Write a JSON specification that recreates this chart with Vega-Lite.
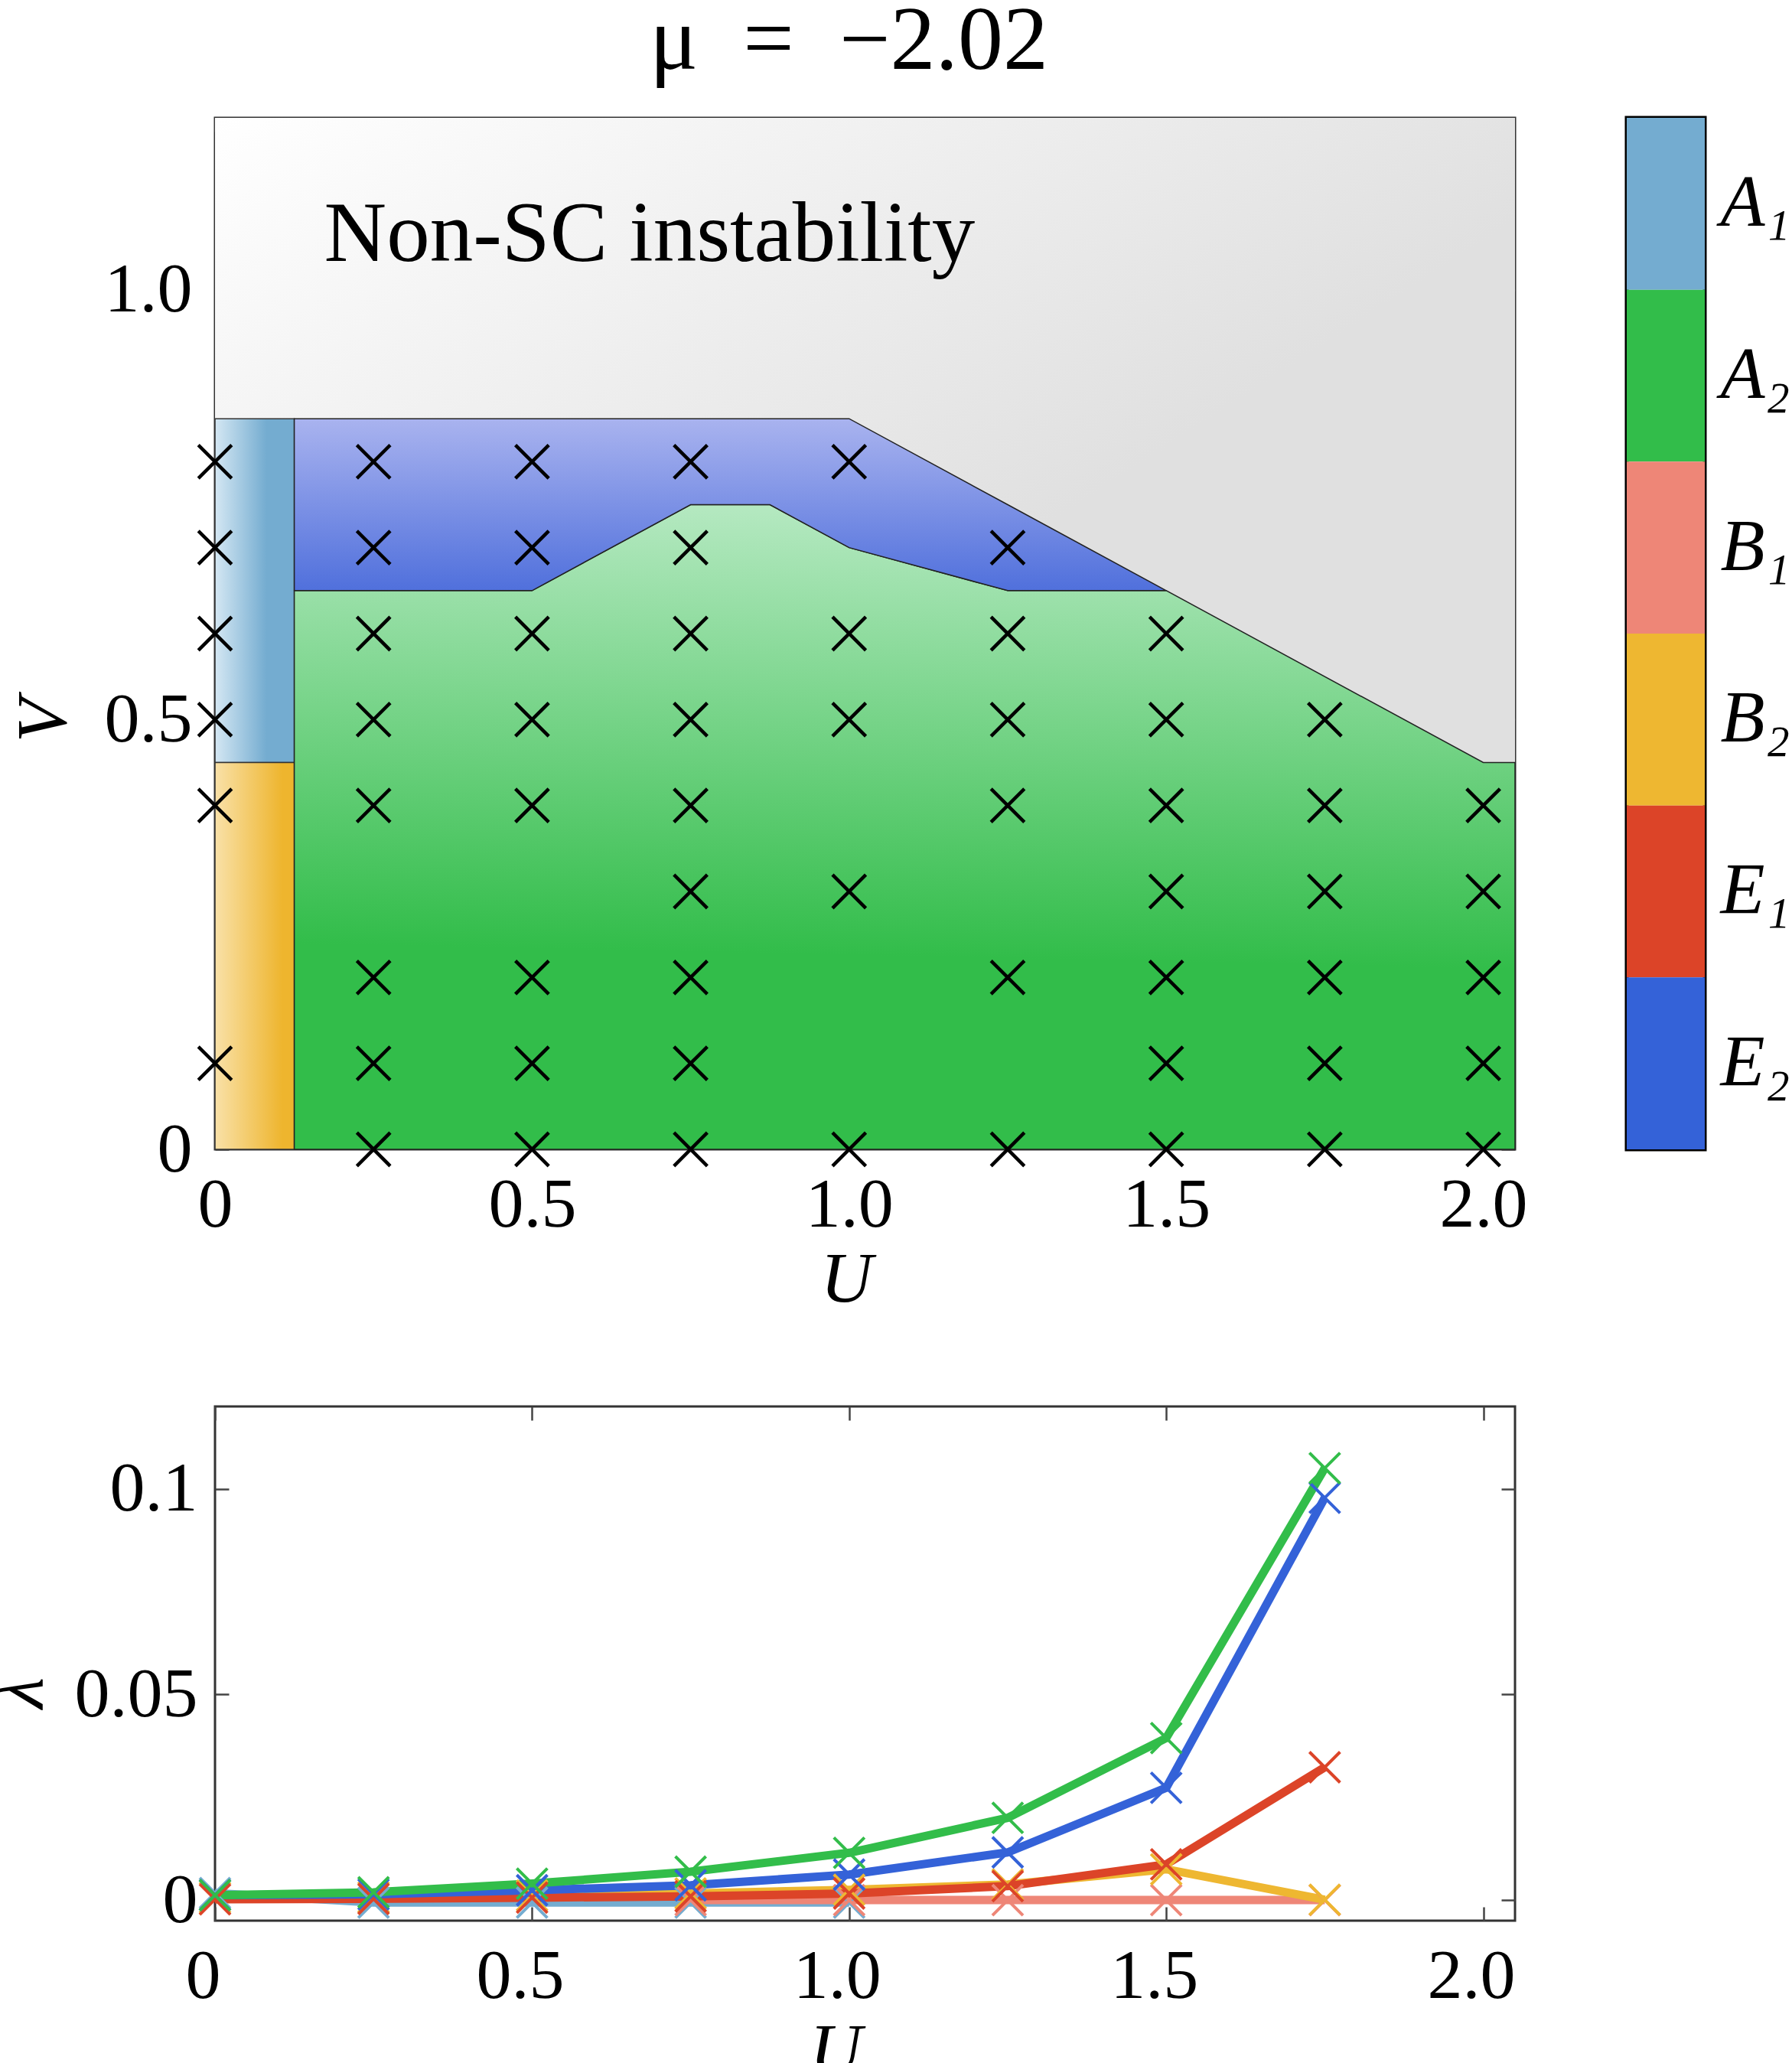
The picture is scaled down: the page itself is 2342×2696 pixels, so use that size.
{
  "$schema": "https://vega.github.io/schema/vega-lite/v6.json",
  "background": "white",
  "padding": {"left": -23, "top": -6, "right": 0, "bottom": 0},
  "config": {
    "font": "Liberation Serif",
    "view": {"stroke": "#333333", "strokeWidth": 3},
    "axis": {
      "labelFont": "Liberation Serif",
      "labelFontSize": 92,
      "labelColor": "black",
      "labelFlush": false,
      "titleFont": "Liberation Serif",
      "titleFontSize": 94,
      "titleFontWeight": "normal",
      "titleFontStyle": "italic",
      "titleColor": "black",
      "grid": false,
      "domain": false,
      "tickColor": "#444444",
      "tickWidth": 2.5,
      "tickSize": -18
    }
  },
  "datasets": {
    "grid": [
      {"U": 0, "V": 0.8}, {"U": 0, "V": 0.7}, {"U": 0, "V": 0.6}, {"U": 0, "V": 0.5}, {"U": 0, "V": 0.4}, {"U": 0, "V": 0.1},
      {"U": 0.25, "V": 0.8}, {"U": 0.25, "V": 0.7}, {"U": 0.25, "V": 0.6}, {"U": 0.25, "V": 0.5}, {"U": 0.25, "V": 0.4}, {"U": 0.25, "V": 0.2}, {"U": 0.25, "V": 0.1}, {"U": 0.25, "V": 0},
      {"U": 0.5, "V": 0.8}, {"U": 0.5, "V": 0.7}, {"U": 0.5, "V": 0.6}, {"U": 0.5, "V": 0.5}, {"U": 0.5, "V": 0.4}, {"U": 0.5, "V": 0.2}, {"U": 0.5, "V": 0.1}, {"U": 0.5, "V": 0},
      {"U": 0.75, "V": 0.8}, {"U": 0.75, "V": 0.7}, {"U": 0.75, "V": 0.6}, {"U": 0.75, "V": 0.5}, {"U": 0.75, "V": 0.4}, {"U": 0.75, "V": 0.3}, {"U": 0.75, "V": 0.2}, {"U": 0.75, "V": 0.1}, {"U": 0.75, "V": 0},
      {"U": 1.0, "V": 0.8}, {"U": 1.0, "V": 0.6}, {"U": 1.0, "V": 0.5}, {"U": 1.0, "V": 0.3}, {"U": 1.0, "V": 0},
      {"U": 1.25, "V": 0.7}, {"U": 1.25, "V": 0.6}, {"U": 1.25, "V": 0.5}, {"U": 1.25, "V": 0.4}, {"U": 1.25, "V": 0.2}, {"U": 1.25, "V": 0},
      {"U": 1.5, "V": 0.6}, {"U": 1.5, "V": 0.5}, {"U": 1.5, "V": 0.4}, {"U": 1.5, "V": 0.3}, {"U": 1.5, "V": 0.2}, {"U": 1.5, "V": 0.1}, {"U": 1.5, "V": 0},
      {"U": 1.75, "V": 0.5}, {"U": 1.75, "V": 0.4}, {"U": 1.75, "V": 0.3}, {"U": 1.75, "V": 0.2}, {"U": 1.75, "V": 0.1}, {"U": 1.75, "V": 0},
      {"U": 2.0, "V": 0.4}, {"U": 2.0, "V": 0.3}, {"U": 2.0, "V": 0.2}, {"U": 2.0, "V": 0.1}, {"U": 2.0, "V": 0}
    ],
    "greenRegion": [
      {"U": 0.125, "V": 0.65}, {"U": 0.5, "V": 0.65}, {"U": 0.75, "V": 0.75}, {"U": 0.875, "V": 0.75},
      {"U": 1.0, "V": 0.70}, {"U": 1.25, "V": 0.65}, {"U": 1.5, "V": 0.65}, {"U": 2.0, "V": 0.45}, {"U": 2.05, "V": 0.45}
    ],
    "blueRegion": [
      {"U": 0.125, "top": 0.85, "bot": 0.65}, {"U": 0.5, "top": 0.85, "bot": 0.65}, {"U": 0.75, "top": 0.85, "bot": 0.75},
      {"U": 0.875, "top": 0.85, "bot": 0.75}, {"U": 1.0, "top": 0.85, "bot": 0.70}, {"U": 1.25, "top": 0.75, "bot": 0.65},
      {"U": 1.5, "top": 0.65, "bot": 0.65}
    ],
    "lambda": [
      {"U": 0, "s": "A1", "lam": 0.0017}, {"U": 0.25, "s": "A1", "lam": -0.0006}, {"U": 0.5, "s": "A1", "lam": -0.0006}, {"U": 0.75, "s": "A1", "lam": -0.0006}, {"U": 1.0, "s": "A1", "lam": -0.0006},
      {"U": 0.75, "s": "B1", "lam": 0}, {"U": 1.0, "s": "B1", "lam": 0}, {"U": 1.25, "s": "B1", "lam": 0}, {"U": 1.5, "s": "B1", "lam": 0}, {"U": 1.75, "s": "B1", "lam": 0},
      {"U": 0, "s": "B2", "lam": 0.0006}, {"U": 0.25, "s": "B2", "lam": 0.0007}, {"U": 0.5, "s": "B2", "lam": 0.0011}, {"U": 0.75, "s": "B2", "lam": 0.0016}, {"U": 1.0, "s": "B2", "lam": 0.0025}, {"U": 1.25, "s": "B2", "lam": 0.0038}, {"U": 1.5, "s": "B2", "lam": 0.0075}, {"U": 1.75, "s": "B2", "lam": 0.0001},
      {"U": 0, "s": "E1", "lam": 0.0002}, {"U": 0.25, "s": "E1", "lam": 0.0003}, {"U": 0.5, "s": "E1", "lam": 0.0006}, {"U": 0.75, "s": "E1", "lam": 0.0009}, {"U": 1.0, "s": "E1", "lam": 0.0016}, {"U": 1.25, "s": "E1", "lam": 0.0034}, {"U": 1.5, "s": "E1", "lam": 0.0087}, {"U": 1.75, "s": "E1", "lam": 0.0323},
      {"U": 0, "s": "E2", "lam": 0.0012}, {"U": 0.25, "s": "E2", "lam": 0.0014}, {"U": 0.5, "s": "E2", "lam": 0.0024}, {"U": 0.75, "s": "E2", "lam": 0.0036}, {"U": 1.0, "s": "E2", "lam": 0.0062}, {"U": 1.25, "s": "E2", "lam": 0.0116}, {"U": 1.5, "s": "E2", "lam": 0.0273}, {"U": 1.75, "s": "E2", "lam": 0.0978},
      {"U": 0, "s": "A2", "lam": 0.0012}, {"U": 0.25, "s": "A2", "lam": 0.0019}, {"U": 0.5, "s": "A2", "lam": 0.0040}, {"U": 0.75, "s": "A2", "lam": 0.0069}, {"U": 1.0, "s": "A2", "lam": 0.0115}, {"U": 1.25, "s": "A2", "lam": 0.0200}, {"U": 1.5, "s": "A2", "lam": 0.0394}, {"U": 1.75, "s": "A2", "lam": 0.1050}
    ],
    "phases": [
      {"phase": "A₁"}, {"phase": "A₂"}, {"phase": "B₁"}, {"phase": "B₂"}, {"phase": "E₁"}, {"phase": "E₂"}
    ]
  },
  "vconcat": [
    {
      "hconcat": [
        {
          "title": {"text": "μ\u2002=\u2002−2.02", "font": "Liberation Serif", "fontSize": 118, "fontWeight": "normal", "color": "black", "frame": "group", "anchor": "middle", "baseline": "bottom", "offset": -80, "dx": -21},
          "width": 1699,
          "height": 1348,
          "resolve": {"axis": {"x": "independent", "y": "independent"}},
          "layer": [
            {
              "data": {"values": [{"k": 1}]},
              "mark": {"type": "rect", "color": {"gradient": "linear", "x1": 0, "y1": 0, "x2": 0.45, "y2": 0.55, "stops": [{"offset": 0, "color": "#ffffff"}, {"offset": 1, "color": "#e0e0e0"}]}},
              "encoding": {
                "x": {"datum": 0, "type": "quantitative", "scale": {"domain": [0, 2.05], "nice": false, "zero": false},
                  "axis": {"orient": "bottom", "values": [0, 0.5, 1, 1.5, 2], "labelExpr": "datum.value == 0 ? '0' : format(datum.value, '.1f')", "title": "U", "labelPadding": 45, "titlePadding": 6, "titleX": 825}},
                "x2": {"datum": 2.05},
                "y": {"datum": 0, "type": "quantitative", "scale": {"domain": [0, 1.2], "nice": false, "zero": false},
                  "axis": {"orient": "left", "values": [0, 0.5, 1], "labelExpr": "datum.value == 0 ? '0' : format(datum.value, '.1f')", "title": "V", "labelPadding": 48, "titlePadding": 31, "titleY": 787}},
                "y2": {"datum": 1.2}
              }
            },
            {
              "data": {"values": [{"U0": 0, "U1": 0.125, "V0": 0.45, "V1": 0.85}]},
              "mark": {"type": "rect", "stroke": "#333333", "strokeWidth": 1.5, "color": {"gradient": "linear", "x1": 0, "y1": 0, "x2": 1, "y2": 0, "stops": [{"offset": 0, "color": "#d4e7f3"}, {"offset": 0.65, "color": "#74acd0"}, {"offset": 1, "color": "#74acd0"}]}},
              "encoding": {
                "x": {"field": "U0", "type": "quantitative", "axis": null}, "x2": {"field": "U1"},
                "y": {"field": "V0", "type": "quantitative", "axis": null}, "y2": {"field": "V1"}
              }
            },
            {
              "data": {"values": [{"U0": 0, "U1": 0.125, "V0": 0, "V1": 0.45}]},
              "mark": {"type": "rect", "stroke": "#333333", "strokeWidth": 1.5, "color": {"gradient": "linear", "x1": 0, "y1": 0, "x2": 1, "y2": 0, "stops": [{"offset": 0, "color": "#f9e1a8"}, {"offset": 0.85, "color": "#eeb52e"}, {"offset": 1, "color": "#eeb52e"}]}},
              "encoding": {
                "x": {"field": "U0", "type": "quantitative", "axis": null}, "x2": {"field": "U1"},
                "y": {"field": "V0", "type": "quantitative", "axis": null}, "y2": {"field": "V1"}
              }
            },
            {
              "data": {"name": "greenRegion"},
              "mark": {"type": "area", "stroke": "#222222", "strokeWidth": 1.5, "color": {"gradient": "linear", "x1": 0.52, "y1": 0, "x2": 0.48, "y2": 1, "stops": [{"offset": 0, "color": "#b6e9c2"}, {"offset": 0.7, "color": "#32bd4a"}, {"offset": 1, "color": "#32bd4a"}]}},
              "encoding": {
                "x": {"field": "U", "type": "quantitative", "axis": null},
                "y": {"field": "V", "type": "quantitative", "axis": null},
                "y2": {"datum": 0}
              }
            },
            {
              "data": {"name": "blueRegion"},
              "mark": {"type": "area", "stroke": "#222222", "strokeWidth": 1.5, "color": {"gradient": "linear", "x1": 0, "y1": 0, "x2": 0, "y2": 1, "stops": [{"offset": 0, "color": "#a9b3ef"}, {"offset": 1, "color": "#5070dc"}]}},
              "encoding": {
                "x": {"field": "U", "type": "quantitative", "axis": null},
                "y": {"field": "top", "type": "quantitative", "axis": null},
                "y2": {"field": "bot"}
              }
            },
            {
              "data": {"name": "grid"},
              "mark": {"type": "point", "shape": "M-1,-1L1,1M-1,1L1,-1", "filled": false, "stroke": "black", "strokeWidth": 4.5, "size": 1900, "opacity": 1},
              "encoding": {
                "x": {"field": "U", "type": "quantitative", "axis": {"orient": "top", "values": [0, 0.5, 1, 1.5, 2], "labels": false, "title": null}},
                "y": {"field": "V", "type": "quantitative", "axis": {"orient": "right", "values": [0, 0.5, 1], "labels": false, "title": null}}
              }
            },
            {
              "data": {"values": [{"label": "Non-SC instability"}]},
              "mark": {"type": "text", "font": "Liberation Serif", "fontSize": 113, "align": "left", "baseline": "alphabetic", "color": "black"},
              "encoding": {
                "x": {"datum": 0.172, "type": "quantitative", "axis": null},
                "y": {"datum": 1.0335, "type": "quantitative", "axis": null},
                "text": {"field": "label"}
              }
            }
          ]
        },
        {
          "width": 102,
          "height": 1348,
          "view": {"stroke": "black", "strokeWidth": 5},
          "data": {"name": "phases"},
          "mark": {"type": "rect"},
          "encoding": {
            "y": {"field": "phase", "type": "nominal", "sort": null, "scale": {"paddingInner": 0, "paddingOuter": 0},
              "axis": {"orient": "right", "ticks": false, "title": null, "labelFontStyle": "italic", "labelFontSize": 95, "labelPadding": 20, "labelAlign": "left", "labelBaseline": "middle", "labelLimit": 0}},
            "color": {"field": "phase", "type": "nominal", "sort": null, "legend": null,
              "scale": {"domain": ["A₁", "A₂", "B₁", "B₂", "E₁", "E₂"], "range": ["#74acd0", "#32bd4a", "#ee8677", "#eeb731", "#dc4428", "#3462d8"]}}
          }
        }
      ],
      "spacing": 125
    },
    {
      "width": 1699,
      "height": 672,
      "data": {"name": "lambda"},
      "resolve": {"axis": {"x": "independent", "y": "independent"}},
      "layer": [
        {
          "mark": {"type": "line", "strokeWidth": 11, "strokeJoin": "round"},
          "encoding": {
            "x": {"field": "U", "type": "quantitative", "scale": {"domain": [0, 2.05], "nice": false, "zero": false},
              "axis": {"orient": "bottom", "values": [0, 0.5, 1, 1.5, 2], "labelExpr": "datum.value == 0 ? '0' : format(datum.value, '.1f')", "title": "U", "labelPadding": 45, "titlePadding": 6, "labelOffset": -16, "titleX": 811}},
            "y": {"field": "lam", "type": "quantitative", "scale": {"domain": [-0.005, 0.12], "nice": false, "zero": false},
              "axis": {"orient": "left", "values": [0, 0.05, 0.1], "labelExpr": "format(datum.value, '.2~f')", "title": "λ", "labelPadding": 41, "titlePadding": 23, "titleY": 374}},
            "color": {"field": "s", "type": "nominal", "legend": null,
              "scale": {"domain": ["A1", "A2", "B1", "B2", "E1", "E2"], "range": ["#74acd0", "#32bd4a", "#ee8677", "#eeb731", "#dc4428", "#3462d8"]}}
          }
        },
        {
          "mark": {"type": "point", "shape": "M-1,-1L1,1M-1,1L1,-1", "filled": false, "strokeWidth": 4, "size": 1600, "opacity": 1},
          "encoding": {
            "x": {"field": "U", "type": "quantitative", "axis": {"orient": "top", "values": [0, 0.5, 1, 1.5, 2], "labels": false, "title": null}},
            "y": {"field": "lam", "type": "quantitative", "axis": {"orient": "right", "values": [0, 0.05, 0.1], "labels": false, "title": null}},
            "stroke": {"field": "s", "type": "nominal", "legend": null,
              "scale": {"domain": ["A1", "A2", "B1", "B2", "E1", "E2"], "range": ["#74acd0", "#32bd4a", "#ee8677", "#eeb731", "#dc4428", "#3462d8"]}}
          }
        }
      ]
    }
  ],
  "spacing": 114
}
